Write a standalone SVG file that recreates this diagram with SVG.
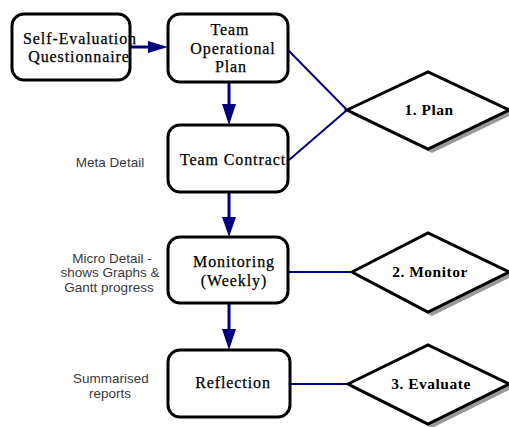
<svg xmlns="http://www.w3.org/2000/svg" width="509" height="427" viewBox="0 0 509 427">
<defs>
<style>
.box{fill:#fff;stroke:#000;stroke-width:3}
.dia{fill:#fff;stroke:#000;stroke-width:3;stroke-linejoin:miter}
.shadow{fill:#999;stroke:none}
.lbl{font-family:"Liberation Serif","Times New Roman",serif;font-size:16px;letter-spacing:0.9px;text-anchor:middle;fill:#000;stroke:#000;stroke-width:0.25}
.dl{font-family:"Liberation Serif","Times New Roman",serif;font-size:15.5px;font-weight:bold;letter-spacing:0.5px;text-anchor:middle;fill:#000}
.side{font-family:"Liberation Sans",Arial,sans-serif;font-size:13.5px;text-anchor:middle;fill:#3a3a3a}
.arr{stroke:#000080;stroke-width:3;fill:none}
.ln{stroke:#000080;stroke-width:2;fill:none}
.head{fill:#000080}
</style>
</defs>
<rect width="509" height="427" fill="#fff"/>
<g id="connectors">
<line class="arr" x1="130" y1="47" x2="150" y2="47"/>
<polygon class="head" points="148,41 168,47 148,53"/>
<line class="arr" x1="229" y1="82" x2="229" y2="106"/>
<polygon class="head" points="222,104 229,125 236,104"/>
<line class="arr" x1="229" y1="192" x2="229" y2="219"/>
<polygon class="head" points="222,217 229,237 236,217"/>
<line class="arr" x1="229" y1="303" x2="229" y2="331"/>
<polygon class="head" points="222,329 229,350 236,329"/>
<line class="ln" x1="288" y1="50" x2="347" y2="110"/>
<line class="ln" x1="289" y1="160" x2="347" y2="110"/>
<line class="ln" x1="288" y1="272" x2="352" y2="272"/>
<line class="ln" x1="290" y1="384" x2="348" y2="384"/>
</g>
<g id="self-evaluation">
<rect class="box" x="12" y="14" width="118" height="66" rx="12"/>
<text class="lbl" x="80" y="44">Self-Evaluation</text>
<text class="lbl" x="79" y="62">Questionnaire</text>
</g>
<g id="team-operational-plan">
<rect class="box" x="168" y="14" width="120" height="68" rx="12"/>
<text class="lbl" x="230" y="35">Team</text>
<text class="lbl" x="233" y="54">Operational</text>
<text class="lbl" x="231" y="72">Plan</text>
</g>
<g id="team-contract">
<rect class="box" x="168" y="125" width="120" height="67" rx="12"/>
<text class="lbl" x="233" y="165">Team Contract</text>
</g>
<g id="monitoring">
<rect class="box" x="168" y="237" width="120" height="66" rx="12"/>
<text class="lbl" x="234" y="267">Monitoring</text>
<text class="lbl" x="234" y="286">(Weekly)</text>
</g>
<g id="reflection">
<rect class="box" x="168" y="350" width="122" height="67" rx="12"/>
<text class="lbl" x="233" y="388">Reflection</text>
</g>
<g id="plan">
<polygon class="shadow" points="351,114 432,76 513,114 432,153"/>
<polygon class="dia" points="347,110 428,72 509,110 428,149"/>
<text class="dl" x="429" y="115">1. Plan</text>
</g>
<g id="monitor">
<polygon class="shadow" points="356,276 432,237 513,276 432,316"/>
<polygon class="dia" points="352,272 428,233 509,272 428,312"/>
<text class="dl" x="430" y="277">2. Monitor</text>
</g>
<g id="evaluate">
<polygon class="shadow" points="352,388 432,349 513,388 432,428"/>
<polygon class="dia" points="348,384 428,345 509,384 428,424"/>
<text class="dl" x="431" y="389">3. Evaluate</text>
</g>
<g id="side-labels">
<text class="side" x="110" y="167">Meta Detail</text>
<text class="side" x="112" y="263">Micro Detail -</text>
<text class="side" x="110" y="277">shows Graphs &amp;</text>
<text class="side" x="109" y="292">Gantt progress</text>
<text class="side" x="111" y="383">Summarised</text>
<text class="side" x="110" y="398">reports</text>
</g>
</svg>
